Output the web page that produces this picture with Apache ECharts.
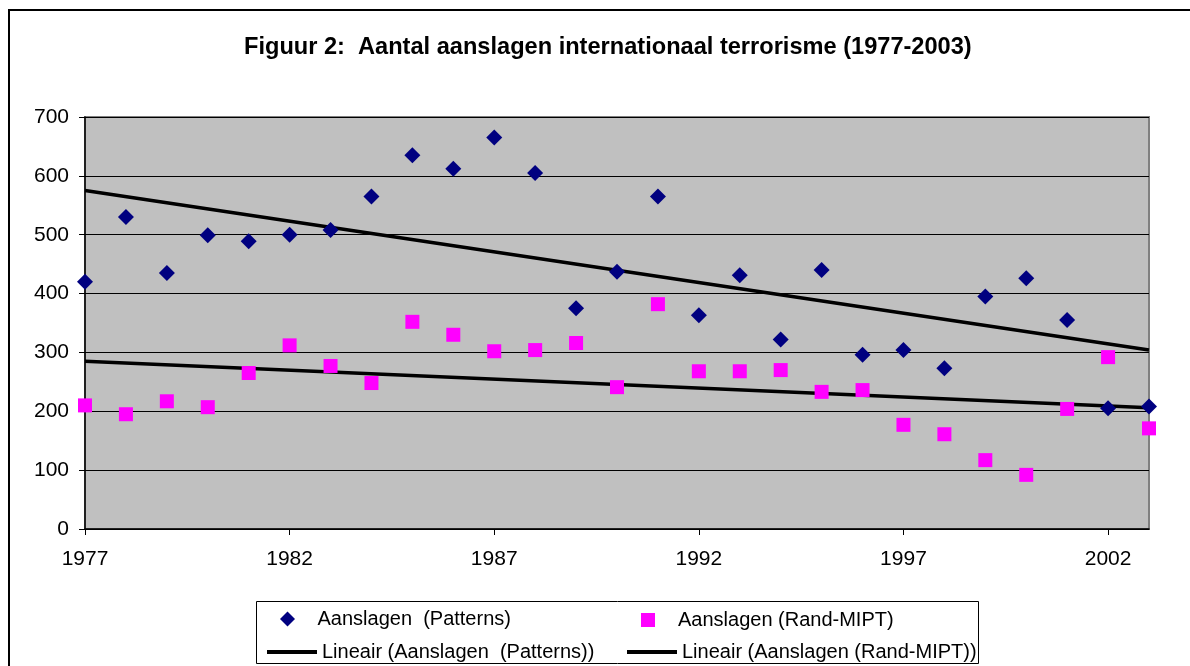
<!DOCTYPE html>
<html>
<head>
<meta charset="utf-8">
<script src="https://cdn.jsdelivr.net/npm/echarts@6/dist/echarts.min.js"></script>
<style>
  html, body { margin: 0; padding: 0; background: #fff; }
  #mychart { width: 1190px; height: 666px; }
</style>
</head>
<body>
<div id="mychart"></div>
<script>
// jaren 1977-2003
const years = [];
for (let y = 1977; y <= 2003; y++) years.push(String(y));

// Aanslagen (Patterns)
const patterns = [420, 530, 435, 499, 489, 500, 508, 565, 635, 612, 665, 605, 375,
  437, 565, 363, 431, 322, 440, 296, 304, 273, 395, 426, 355, 205, 208];

// Aanslagen (Rand-MIPT)
const randMipt = [210, 195, 217, 207, 265, 312, 277, 248, 352, 330, 302, 304, 316,
  241, 382, 268, 268, 270, 233, 236, 177, 161, 117, 92, 204, 292, 171];

const trendPatterns = [['1977', 575], ['2003', 304]];
const trendRand = [['1977', 285], ['2003', 206]];

const yTicks = { min: 0, max: 700, interval: 100 };

const font = "'Liberation Sans', Arial, sans-serif";
const legendText = { fontFamily: font, fontSize: 20, color: "#000" };
const chart = echarts.init(document.getElementById("mychart"));

// een legenda per item, zodat elk item zijn eigen plek en icoon krijgt
function legendItem(name, icon, left, top, h) {
  return {
    left: left,
    top: top,
    icon: icon,
    itemWidth: 50,
    itemHeight: h,
    symbolKeepAspect: true,
    data: [name],
    textStyle: legendText
  };
}

const option = {
  backgroundColor: "#fff",
  animation: false,
  title: {
    text: "Figuur 2:  Aantal aanslagen internationaal terrorisme (1977-2003)",
    left: 239,
    top: 30,
    textStyle: { fontFamily: font, fontSize: 23.6, fontWeight: "bold", color: "#000" }
  },
  graphic: [
    {
      type: "rect",
      shape: { x: 9, y: 10, width: 1200, height: 700 },
      style: { fill: "none", stroke: "#000", lineWidth: 2 },
      silent: true
    },
    {
      type: "rect",
      shape: { x: 256.5, y: 601.5, width: 722, height: 62 },
      style: { fill: "#fff", stroke: "#000", lineWidth: 1 },
      silent: true,
      z: -1
    }
  ],
  legend: [
    legendItem("Aanslagen  (Patterns)", "path://M0,-1L1,0L0,1L-1,0Z", 275, 604, 15),
    legendItem("Lineair (Aanslagen  (Patterns))", "rect", 262, 637, 4),
    legendItem("Aanslagen (Rand-MIPT)", "path://M0,0H1V1H0Z", 636, 605, 14),
    legendItem("Lineair (Aanslagen (Rand-MIPT))", "rect", 622, 637, 4)
  ],
  grid: {
    left: 85,
    right: 41,
    top: 117,
    bottom: 137,
    show: true,
    backgroundColor: "#C0C0C0",
    borderColor: "#808080",
    borderWidth: 2
  },
  xAxis: {
    type: "category",
    data: years,
    boundaryGap: false,
    axisLine: { lineStyle: { color: "#000", width: 1.5 } },
    axisTick: { interval: 4, length: 6, lineStyle: { color: "#000" } },
    axisLabel: { interval: 4, margin: 20, fontFamily: font, fontSize: 21, color: "#000" },
    splitLine: { show: false }
  },
  yAxis: {
    type: "value",
    min: yTicks.min,
    max: yTicks.max,
    interval: yTicks.interval,
    axisLine: { show: true, lineStyle: { color: "#000", width: 1.5 } },
    axisTick: { show: true, length: 6, lineStyle: { color: "#000" } },
    axisLabel: { margin: 16, fontFamily: font, fontSize: 21, color: "#000" },
    splitLine: { lineStyle: { color: "#000", width: 1 } }
  },
  series: [
    {
      name: "Aanslagen  (Patterns)",
      type: "scatter",
      data: patterns,
      symbol: "diamond",
      symbolSize: [16, 16],
      itemStyle: { color: "#000080", opacity: 1 },
      z: 5
    },
    {
      name: "Aanslagen (Rand-MIPT)",
      type: "scatter",
      data: randMipt,
      symbol: "rect",
      symbolSize: 14,
      itemStyle: { color: "#FF00FF", opacity: 1 },
      z: 5
    },
    {
      name: "Lineair (Aanslagen  (Patterns))",
      type: "line",
      data: trendPatterns,
      symbol: "none",
      lineStyle: { color: "#000", width: 3.5 },
      itemStyle: { color: "#000" },
      z: 3
    },
    {
      name: "Lineair (Aanslagen (Rand-MIPT))",
      type: "line",
      data: trendRand,
      symbol: "none",
      lineStyle: { color: "#000", width: 3.5 },
      itemStyle: { color: "#000" },
      z: 3
    }
  ]
};

chart.setOption(option);
window.addEventListener("resize", () => {
  chart.resize();
});
</script>
</body>
</html>
